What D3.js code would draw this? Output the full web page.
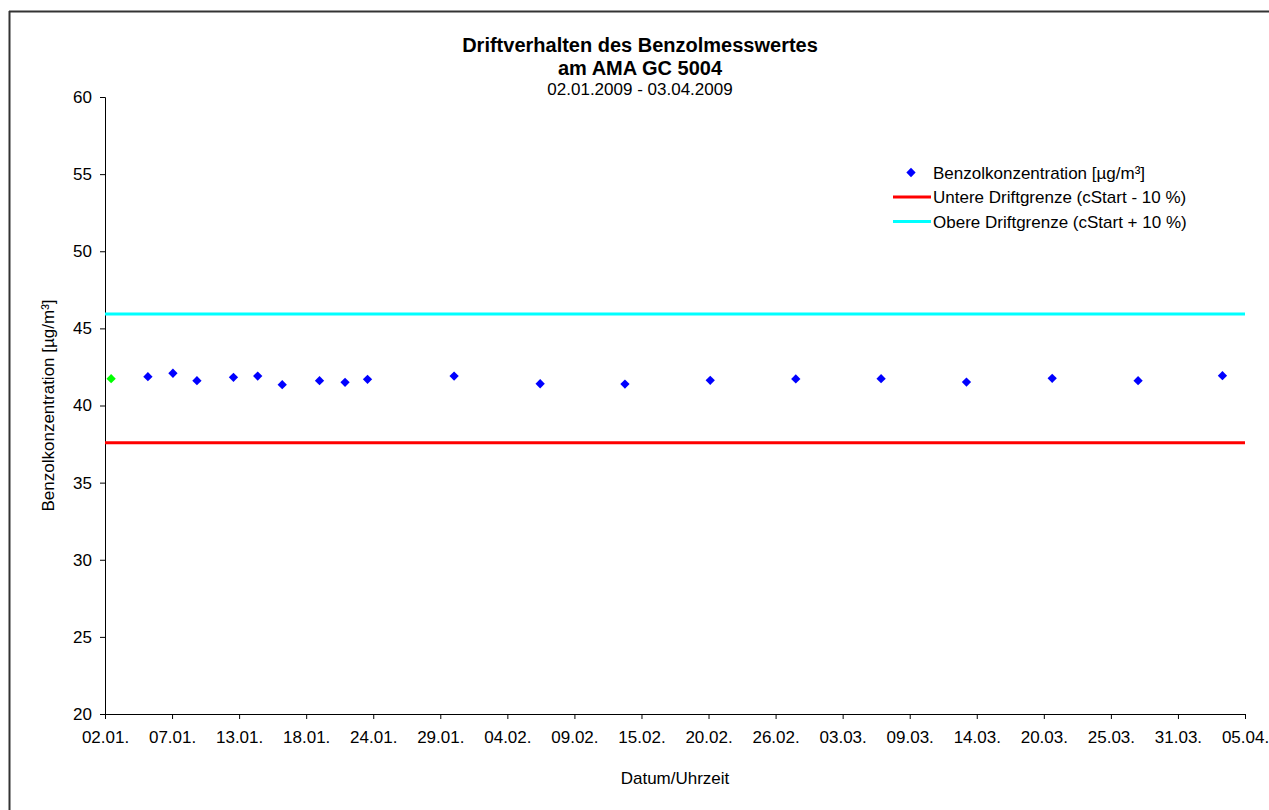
<!DOCTYPE html>
<html>
<head>
<meta charset="utf-8">
<script src="https://cdn.jsdelivr.net/npm/d3@7"></script>
<style>
  body { margin: 0; background: #fff; }
  svg { display: block; }
  text { font-family: "Liberation Sans", Arial, sans-serif; fill: #000; }
</style>
</head>
<body>
<svg id="chart" width="1269" height="810"></svg>
<script>
// Measurement times (local time) of the benzene test gas checks
const measurementTimes = [
  "2009-01-03T01:00", "2009-01-06T01:00", "2009-01-08T02:00", "2009-01-10T01:00",
  "2009-01-13T00:30", "2009-01-15T00:00", "2009-01-17T00:00", "2009-01-20T01:00",
  "2009-01-22T03:00", "2009-01-23T23:00", "2009-01-31T00:30", "2009-02-07T01:00",
  "2009-02-13T23:00", "2009-02-20T22:00", "2009-02-27T21:30", "2009-03-06T20:30",
  "2009-03-13T19:40", "2009-03-20T19:30", "2009-03-27T19:40", "2009-04-03T16:50"
];
// Benzene concentration in µg/m³
const benzeneValues = [
  41.74, 41.87, 42.09, 41.61, 41.83, 41.91, 41.35, 41.61, 41.50, 41.70,
  41.91, 41.41, 41.39, 41.63, 41.72, 41.74, 41.52, 41.76, 41.61, 41.93
];
// Drift limits around the start value (cStart ± 10 %)
const lowerLimit = 37.58;
const upperLimit = 45.93;

const axisStart = "2009-01-02T13:00";
const axisEnd = "2009-04-05T13:00";
const xTickLabels = [
  "02.01.", "07.01.", "13.01.", "18.01.", "24.01.", "29.01.", "04.02.", "09.02.", "15.02.",
  "20.02.", "26.02.", "03.03.", "09.03.", "14.03.", "20.03.", "25.03.", "31.03.", "05.04."
];
const yTicks = [20, 25, 30, 35, 40, 45, 50, 55, 60];

const legendItems = [
  { label: "Benzolkonzentration [µg/m³]", type: "marker", color: "#0000ff" },
  { label: "Untere Driftgrenze (cStart - 10 %)", type: "line", color: "#ff0000" },
  { label: "Obere Driftgrenze (cStart + 10 %)", type: "line", color: "#00ffff" }
];

const parseTime = d3.timeParse("%Y-%m-%dT%H:%M");
const points = measurementTimes.map((t, i) => ({ t: parseTime(t), v: benzeneValues[i], start: i === 0 }));

const svg = d3.select("#chart");
const plot = { left: 105, right: 1245, top: 97, bottom: 714 };
const baseFont = "17px";
const titleX = 640;

const t0 = parseTime(axisStart), t1 = parseTime(axisEnd);
const x = d3.scaleTime().domain([t0, t1]).range([plot.left, plot.right]);
const y = d3.scaleLinear().domain([20, 60]).range([plot.bottom, plot.top]);

// Chart area frame
svg.append("line").attr("x1", 9).attr("x2", 1269).attr("y1", 11.5).attr("y2", 11.5)
  .attr("stroke", "#333").attr("stroke-width", 2);
svg.append("line").attr("x1", 9.5).attr("x2", 9.5).attr("y1", 11).attr("y2", 810)
  .attr("stroke", "#333").attr("stroke-width", 2);

// Titles
svg.append("text").attr("x", titleX).attr("y", 52).attr("text-anchor", "middle")
  .style("font-size", "20px").style("font-weight", "bold").text("Driftverhalten des Benzolmesswertes");
svg.append("text").attr("x", titleX).attr("y", 75).attr("text-anchor", "middle")
  .style("font-size", "20px").style("font-weight", "bold").text("am AMA GC 5004");
svg.append("text").attr("x", titleX).attr("y", 95).attr("text-anchor", "middle")
  .style("font-size", baseFont).text("02.01.2009 - 03.04.2009");

// Axes
const tickStep = (t1 - t0) / (xTickLabels.length - 1);
const xTickValues = xTickLabels.map((_, i) => new Date(+t0 + i * tickStep));
const xAxis = d3.axisBottom(x).tickValues(xTickValues)
  .tickFormat((d, i) => xTickLabels[i]).tickSizeOuter(0).tickSize(5).tickPadding(9);
const gx = svg.append("g").attr("transform", `translate(0,${plot.bottom})`).call(xAxis);
gx.selectAll("text").style("font-size", baseFont).attr("dy", "0.9em");

const yAxis = d3.axisLeft(y).tickValues(yTicks).tickSizeOuter(0).tickSize(5).tickPadding(8);
const gy = svg.append("g").attr("transform", `translate(${plot.left},0)`).call(yAxis);
gy.selectAll("text").style("font-size", baseFont);

[gx, gy].forEach(g => {
  g.select(".domain").attr("stroke", "#000").attr("stroke-width", 1);
  g.selectAll(".tick line").attr("stroke", "#000");
});

// Axis titles
svg.append("text").attr("x", (plot.left + plot.right) / 2).attr("y", 784).attr("text-anchor", "middle")
  .style("font-size", baseFont).text("Datum/Uhrzeit");
svg.append("text").attr("transform", `translate(54,${(plot.top + plot.bottom) / 2}) rotate(-90)`)
  .attr("text-anchor", "middle").style("font-size", baseFont).text("Benzolkonzentration [µg/m³]");

// Drift limit lines
svg.append("line").attr("x1", x(t0)).attr("x2", x(t1)).attr("y1", y(lowerLimit)).attr("y2", y(lowerLimit))
  .attr("stroke", "#ff0000").attr("stroke-width", 3);
svg.append("line").attr("x1", x(t0)).attr("x2", x(t1)).attr("y1", y(upperLimit)).attr("y2", y(upperLimit))
  .attr("stroke", "#00ffff").attr("stroke-width", 3);

// Measurement markers (diamonds), start value highlighted in green
const diamond = d3.symbol().type(d3.symbolDiamond2).size(55);
svg.append("g").selectAll("path").data(points).join("path")
  .attr("d", diamond)
  .attr("transform", d => `translate(${x(d.t)},${y(d.v)})`)
  .attr("fill", d => d.start ? "#00ff00" : "#0000ff");

// Legend
const legend = svg.append("g").attr("transform", "translate(893,172.5)");
legendItems.forEach((item, i) => {
  const g = legend.append("g").attr("transform", `translate(0,${i * 24.5})`);
  if (item.type === "marker") {
    g.append("path").attr("d", diamond).attr("transform", "translate(18,0)").attr("fill", item.color);
  } else {
    g.append("line").attr("x1", 0).attr("x2", 38).attr("y1", 0).attr("y2", 0)
      .attr("stroke", item.color).attr("stroke-width", 3);
  }
  g.append("text").attr("x", 40).attr("y", 6).style("font-size", baseFont).text(item.label);
});
</script>
</body>
</html>
